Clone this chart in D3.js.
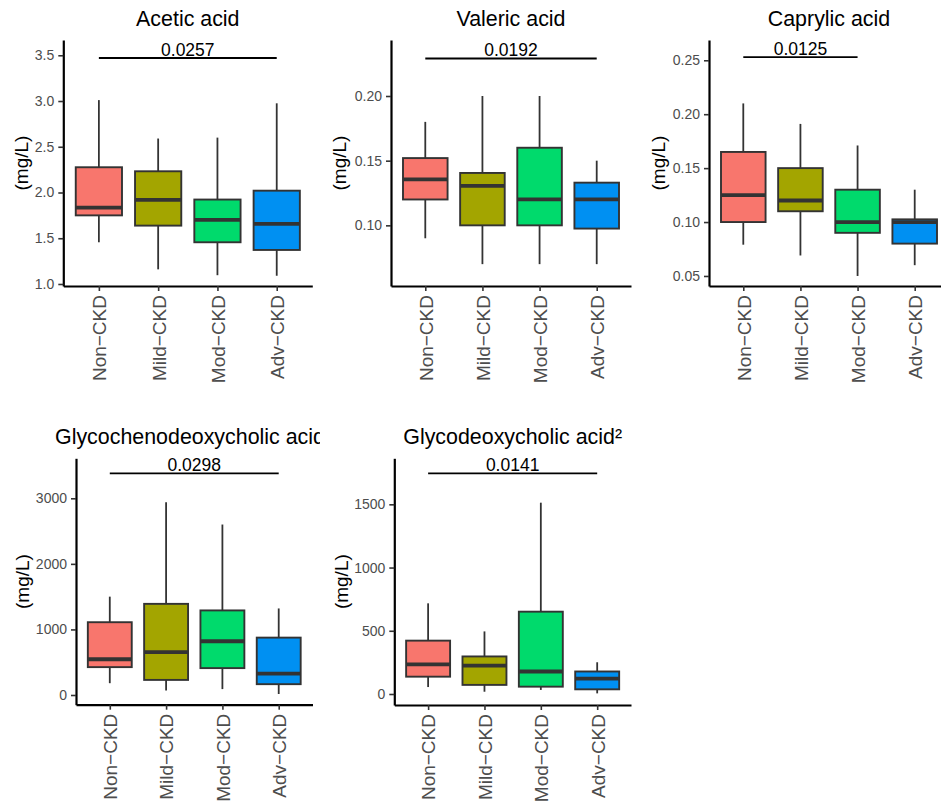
<!DOCTYPE html>
<html>
<head>
<meta charset="utf-8">
<script src="https://cdn.jsdelivr.net/npm/d3@7"></script>
<style>
  html, body { margin: 0; padding: 0; background: #fff; }
  svg { display: block; font-family: "Liberation Sans", Arial, Helvetica, sans-serif; }
</style>
</head>
<body>
<svg id="chart" width="941" height="810"></svg>
<script>
// CKD stage groups shared by every panel
const groups = ["Non\u2212CKD", "Mild\u2212CKD", "Mod\u2212CKD", "Adv\u2212CKD"];
const groupColors = ["#F8766D", "#A3A500", "#00DA6C", "#0090F2"];

// Box statistics per group: [lower whisker, Q1, median, Q3, upper whisker]
const aceticStats = [
  [1.456, 1.75, 1.834, 2.276, 3.01],
  [1.16, 1.638, 1.92, 2.232, 2.59],
  [1.096, 1.456, 1.70, 1.923, 2.60],
  [1.09, 1.372, 1.656, 2.02, 2.975]
];
const valericStats = [
  [0.09, 0.12, 0.1355, 0.152, 0.18],
  [0.07, 0.10, 0.1305, 0.1405, 0.20],
  [0.07, 0.10, 0.12, 0.16, 0.20],
  [0.07, 0.0975, 0.12, 0.133, 0.15]
];
const caprylicStats = [
  [0.079, 0.10, 0.125, 0.165, 0.21],
  [0.069, 0.11, 0.12, 0.15, 0.191],
  [0.05, 0.09, 0.10, 0.13, 0.171],
  [0.06, 0.08, 0.10, 0.1025, 0.13]
];
const gcdcaStats = [
  [180, 425, 545, 1110, 1500],
  [70, 230, 655, 1390, 2940],
  [90, 410, 820, 1290, 2600],
  [15, 165, 325, 875, 1320]
];
const gdcaStats = [
  [55, 137, 235, 422, 717],
  [18, 72, 225, 297, 495],
  [32, 58, 178, 651, 1513],
  [5, 37, 122, 178, 251]
];

// Panel titles
const titles = ["Acetic acid", "Valeric acid", "Caprylic acid",
                "Glycochenodeoxycholic acid", "Glycodeoxycholic acid\u00B2"];
const yAxisTitle = "(mg/L)";

// y-axis limits and tick values per panel
const yLimits = [[0.978, 3.667], [0.0531, 0.2433], [0.0407, 0.2688], [-148, 3610], [-87, 1864]];
const yTicks = [
  [1.0, 1.5, 2.0, 2.5, 3.0, 3.5],
  [0.10, 0.15, 0.20],
  [0.05, 0.10, 0.15, 0.20, 0.25],
  [0, 1000, 2000, 3000],
  [0, 500, 1000, 1500]
];
const yFormats = [".1f", ".2f", ".2f", "d", "d"];

// Pairwise comparison brackets: group index from/to, bar height, p-value
const compFrom = [0, 0, 0, 0, 0];
const compTo = [3, 3, 2, 3, 3];
const compY = [3.47, 0.229, 0.253, 3380, 1745];
const compP = ["0.0257", "0.0192", "0.0125", "0.0298", "0.0141"];

const panelStats = [aceticStats, valericStats, caprylicStats, gcdcaStats, gdcaStats];

// Plot-area geometry per panel
const layout = [
  { left: 63.3, right: 312.3, top: 40, bottom: 286, titleX: null, titleY: 26, yTitleX: 21.5, clipRight: 941 },
  { left: 391, right: 631, top: 40, bottom: 286, titleX: null, titleY: 26, yTitleX: 339, clipRight: 941 },
  { left: 709, right: 949, top: 40, bottom: 286, titleX: null, titleY: 26, yTitleX: 658.5, clipRight: 941 },
  { left: 76, right: 312.5, top: 458.3, bottom: 704.7, titleX: 190, titleY: 444, yTitleX: 22, clipRight: 320 },
  { left: 394.3, right: 631, top: 458.3, bottom: 705, titleX: null, titleY: 444, yTitleX: 341, clipRight: 941 }
];

const svg = d3.select("#chart");
const defs = svg.append("defs");

panelStats.forEach((stats, i) => {
  const L = layout[i];
  const g = svg.append("g");

  const x = d3.scalePoint().domain(groups).range([L.left, L.right]).padding(0.6);
  const y = d3.scaleLinear().domain(yLimits[i]).range([L.bottom, L.top]);
  const bw = x.step() * 0.78;

  // title (clipped to its cell)
  const clipId = "clip" + i;
  defs.append("clipPath").attr("id", clipId)
    .append("rect").attr("x", 0).attr("y", 0).attr("width", L.clipRight).attr("height", 810);
  g.append("text")
    .attr("clip-path", `url(#${clipId})`)
    .attr("x", L.titleX == null ? (L.left + L.right) / 2 : L.titleX)
    .attr("y", L.titleY)
    .attr("text-anchor", "middle")
    .attr("font-size", 21.4)
    .attr("fill", "#000")
    .text(titles[i]);

  // boxes
  const box = g.selectAll("g.box").data(stats).join("g").attr("class", "box");
  box.append("line")
    .attr("x1", (d, j) => x(groups[j])).attr("x2", (d, j) => x(groups[j]))
    .attr("y1", d => y(d[4])).attr("y2", d => y(d[3]))
    .attr("stroke", "#333").attr("stroke-width", 1.8);
  box.append("line")
    .attr("x1", (d, j) => x(groups[j])).attr("x2", (d, j) => x(groups[j]))
    .attr("y1", d => y(d[1])).attr("y2", d => y(d[0]))
    .attr("stroke", "#333").attr("stroke-width", 1.8);
  box.append("rect")
    .attr("x", (d, j) => x(groups[j]) - bw / 2)
    .attr("width", bw)
    .attr("y", d => y(d[3]))
    .attr("height", d => y(d[1]) - y(d[3]))
    .attr("fill", (d, j) => groupColors[j])
    .attr("stroke", "#333").attr("stroke-width", 1.9);
  box.append("line")
    .attr("x1", (d, j) => x(groups[j]) - bw / 2).attr("x2", (d, j) => x(groups[j]) + bw / 2)
    .attr("y1", d => y(d[2])).attr("y2", d => y(d[2]))
    .attr("stroke", "#333").attr("stroke-width", 3.8);

  // y axis
  const yAxis = g.append("g")
    .attr("transform", `translate(${L.left},0)`)
    .call(d3.axisLeft(y).tickValues(yTicks[i]).tickFormat(d3.format(yFormats[i]))
      .tickSize(5).tickSizeOuter(0).tickPadding(4));
  yAxis.select(".domain").attr("stroke", "#000").attr("stroke-width", 2.2);
  yAxis.selectAll(".tick line").attr("stroke", "#333").attr("stroke-width", 1.6);
  yAxis.selectAll(".tick text")
    .attr("font-size", 14).attr("fill", "#4d4d4d")
    .attr("font-family", "'Liberation Sans', Arial, sans-serif");

  // x axis
  const xAxis = g.append("g")
    .attr("transform", `translate(0,${L.bottom})`)
    .call(d3.axisBottom(x).tickSize(5).tickSizeOuter(0));
  xAxis.select(".domain").attr("stroke", "#000").attr("stroke-width", 2.2);
  xAxis.selectAll(".tick line").attr("stroke", "#333").attr("stroke-width", 1.6);
  xAxis.selectAll(".tick text")
    .attr("transform", "rotate(-90)")
    .attr("x", -9).attr("y", 0).attr("dy", "0.36em")
    .attr("text-anchor", "end")
    .attr("font-size", 19).attr("fill", "#4d4d4d")
    .attr("font-family", "'Liberation Sans', Arial, sans-serif");

  // y axis title
  const cy = (L.top + L.bottom) / 2;
  g.append("text")
    .attr("transform", `translate(${L.yTitleX},${cy}) rotate(-90)`)
    .attr("text-anchor", "middle")
    .attr("dy", "0.36em")
    .attr("font-size", 19)
    .attr("fill", "#000")
    .text(yAxisTitle);

  // comparison bracket with p-value
  const x1 = x(groups[compFrom[i]]), x2 = x(groups[compTo[i]]);
  g.append("line")
    .attr("x1", x1).attr("x2", x2)
    .attr("y1", y(compY[i])).attr("y2", y(compY[i]))
    .attr("stroke", "#000").attr("stroke-width", 1.8);
  g.append("text")
    .attr("x", (x1 + x2) / 2)
    .attr("y", y(compY[i]) - 2)
    .attr("text-anchor", "middle")
    .attr("font-size", 17.5)
    .attr("fill", "#000")
    .text(compP[i]);
});
</script>
</body>
</html>
